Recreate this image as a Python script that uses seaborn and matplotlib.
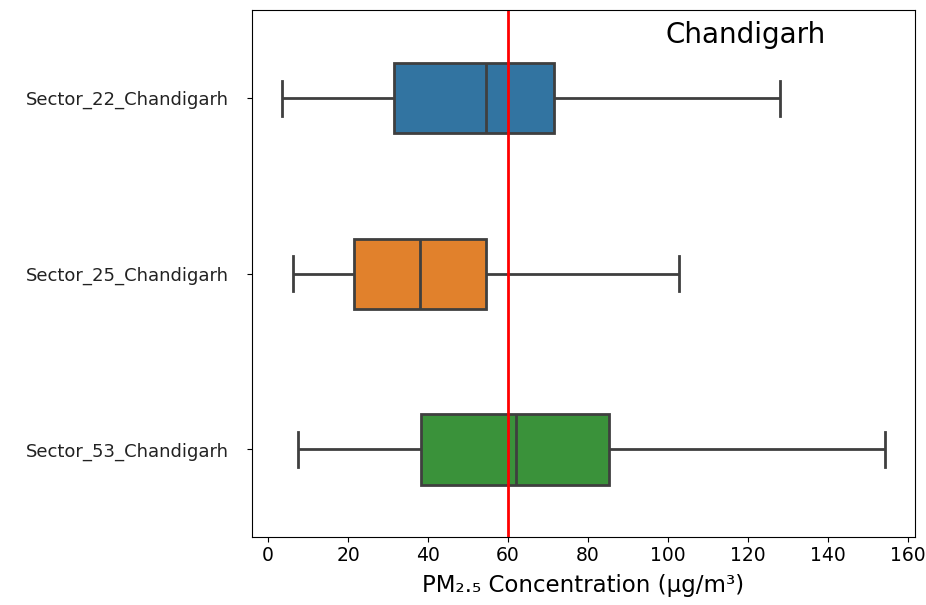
"""PM2.5 distribution per Chandigarh monitoring station (horizontal boxplots)."""

import matplotlib
matplotlib.use("Agg")
import matplotlib.pyplot as plt
import numpy as np
import pandas as pd
import seaborn as sns

STATIONS = ["Sector_22_Chandigarh", "Sector_25_Chandigarh", "Sector_53_Chandigarh"]
# five-number summaries: whisker low, Q1, median, Q3, whisker high
SECTOR_22 = [3.5, 31.5, 54.5, 71.5, 128.0]
SECTOR_25 = [6.3, 21.5, 38.0, 54.5, 102.8]
SECTOR_53 = [7.5, 38.3, 62.0, 85.2, 154.2]
STANDARD_LIMIT = 60
CITY = "Chandigarh"

frames = []
for name, values in zip(STATIONS, [SECTOR_22, SECTOR_25, SECTOR_53]):
    frames.append(pd.DataFrame({"Station": name, "PM2.5": values}))
df = pd.concat(frames, ignore_index=True)

plt.rcParams["font.family"] = ["DejaVu Sans"]

fig = plt.figure(figsize=(9.26, 6.05), dpi=100)
ax = fig.add_axes([0.272, 0.112, 0.716, 0.871])

sns.boxplot(
    data=df, x="PM2.5", y="Station", hue="Station", order=STATIONS,
    palette=sns.color_palette("tab10", 3), saturation=0.75, width=0.4,
    linecolor="#3f3f3f", linewidth=2, whis=1.5, showfliers=False,
    legend=False, ax=ax,
)
ax.axvline(STANDARD_LIMIT, color="red", linewidth=2)

ax.set_xticks(np.arange(0, 161, 20))
ax.set_xlabel("PM\u2082.\u2085 Concentration (\u00b5g/m\u00b3)", fontsize=16.5, labelpad=7)
ax.set_ylabel("")
ax.tick_params(axis="x", labelsize=13.5, pad=2.5)
ax.tick_params(axis="y", labelsize=13, pad=13, labelcolor="#222222")
ax.text(0.745, 0.953, CITY, transform=ax.transAxes, fontsize=20,
        ha="center", va="center")

fig.savefig("out.png", dpi=100)
